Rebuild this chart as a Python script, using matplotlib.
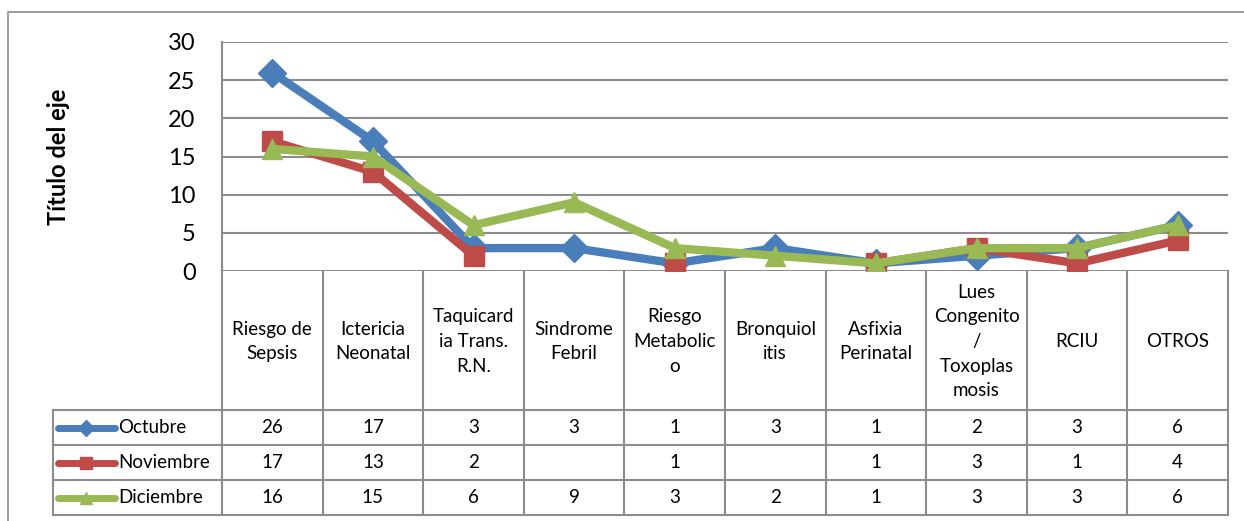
import matplotlib
matplotlib.use("Agg")
import matplotlib.pyplot as plt
import numpy as np
from matplotlib.lines import Line2D

# --- data --------------------------------------------------------------
categories = [
    "Riesgo de\nSepsis",
    "Ictericia\nNeonatal",
    "Taquicard\nia Trans.\nR.N.",
    "Sindrome\nFebril",
    "Riesgo\nMetabolic\no",
    "Bronquiol\nitis",
    "Asfixia\nPerinatal",
    "Lues\nCongenito\n/\nToxoplas\nmosis",
    "RCIU",
    "OTROS",
]
series_names = ["Octubre", "Noviembre", "Diciembre"]
octubre = [26, 17, 3, 3, 1, 3, 1, 2, 3, 6]
noviembre = [17, 13, 2, None, 1, None, 1, 3, 1, 4]
diciembre = [16, 15, 6, 9, 3, 2, 1, 3, 3, 6]
y_ticks = [0, 5, 10, 15, 20, 25, 30]
axis_title = "Título del eje"

colors = ["#4A7EBB", "#BE4B48", "#98B954"]
markers = ["D", "s", "^"]
grid_col = "#8C8C8C"

plt.rcParams["font.family"] = ["Lato", "DejaVu Sans"]

W, H = 1244, 521
fig = plt.figure(figsize=(W / 100, H / 100), dpi=100)

# pixel geometry of the Excel layout
px_left, px_right, px_top, px_zero = 222, 1228, 42, 271
px_legend_left, px_bottom = 53, 515
row_h = 35
cat_h = px_bottom - px_zero - 3 * row_h


def fx(px):
    return px / W


def fy(px):
    return 1 - px / H


# outer chart-area frame (only left and top edges visible)
fig.add_artist(Line2D([fx(8), fx(8), fx(W + 5)], [fy(H + 5), fy(12), fy(12)],
                      color=grid_col, lw=1.2, transform=fig.transFigure))

# --- line plot ---------------------------------------------------------
ax = fig.add_axes([fx(px_left), fy(px_zero), fx(px_right) - fx(px_left),
                   fy(px_top) - fy(px_zero)])
x = np.arange(len(categories)) + 0.5
all_series = [octubre, noviembre, diciembre]
for vals, name, c, m in zip(all_series, series_names, colors, markers):
    y = np.array([np.nan if v is None else v for v in vals], dtype=float)
    ax.plot(x, y, color=c, lw=6, marker=m, markersize=14,
            markeredgecolor=c, label=name, zorder=3, solid_capstyle="round")

ax.set_xlim(0, len(categories))
ax.set_ylim(0, 30)
ax.set_yticks(y_ticks)
ax.set_yticklabels([str(t) for t in y_ticks], fontsize=17)
ax.tick_params(axis="y", length=0, pad=19)
ax.set_xticks([])
for yt in y_ticks:
    ax.axhline(yt, color=grid_col, lw=1.5, zorder=1)
for s in ["top", "right", "bottom"]:
    ax.spines[s].set_visible(False)
ax.spines["left"].set_color(grid_col)
ax.spines["left"].set_linewidth(1.5)

fig.text(fx(58), fy((px_top + px_zero) / 2), axis_title, rotation=90,
         ha="center", va="center", fontsize=17, fontweight="bold")

# --- data table under the plot -----------------------------------------
unit = (px_right - px_left) / len(categories)
tx0 = -(px_left - px_legend_left) / unit
tab = fig.add_axes([fx(px_legend_left), fy(px_bottom),
                    fx(px_right) - fx(px_legend_left),
                    fy(px_zero) - fy(px_bottom)])
tab.set_xlim(tx0, len(categories))
tab.set_ylim(px_bottom - px_zero, 0)
tab.axis("off")

lk = dict(color=grid_col, lw=1.5, clip_on=False)
for i in range(len(categories) + 1):
    tab.plot([i, i], [0, px_bottom - px_zero], **lk)
tab.plot([tx0, tx0], [cat_h, px_bottom - px_zero], **lk)
for r in range(4):
    yy = cat_h + r * row_h
    tab.plot([tx0, len(categories)], [yy, yy], **lk)

for i, lab in enumerate(categories):
    tab.text(i + 0.5, cat_h / 2 + 1, lab, ha="center", va="center",
             fontsize=13.5, linespacing=1.55)

key_l = (58 - px_left) / unit
key_r = (115 - px_left) / unit
txt_x = (118 - px_left) / unit
for r, (vals, name, c, m) in enumerate(zip(all_series, series_names, colors, markers)):
    yc = cat_h + r * row_h + row_h / 2
    tab.plot([key_l, key_r], [yc, yc], color=c, lw=5, solid_capstyle="round")
    tab.plot([(key_l + key_r) / 2], [yc], marker=m, color=c, markersize=8)
    tab.text(txt_x, yc, name, ha="left", va="center", fontsize=13.5)
    for i, v in enumerate(vals):
        if v is not None:
            tab.text(i + 0.5, yc, str(v), ha="center", va="center", fontsize=13.5)

fig.savefig("out.png", dpi=100)
